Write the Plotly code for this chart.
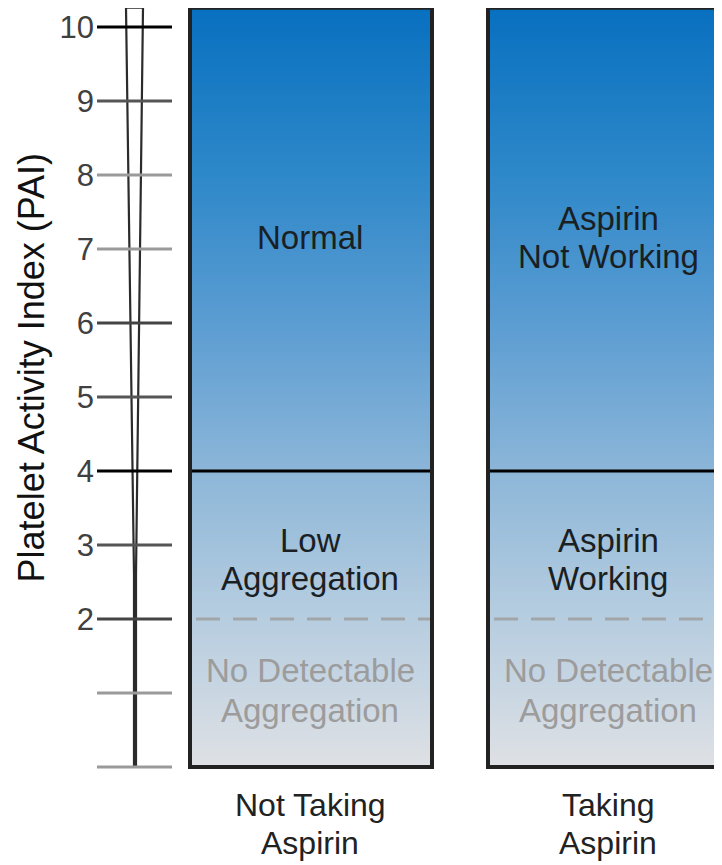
import plotly.graph_objects as go
import numpy as np

# ---- data ----
pai_ticks = [0, 1, 2, 3, 4, 5, 6, 7, 8, 9, 10]
tick_labels = ["", "", "2", "3", "4", "5", "6", "7", "8", "9", "10"]
tick_colors = ["#9a9a9a", "#9a9a9a", "#444444", "#555555", "#000000", "#555555",
               "#444444", "#9a9a9a", "#9a9a9a", "#555555", "#000000"]
columns = [["Not Taking", "Aspirin"], ["Taking", "Aspirin"]]
col_left = [190, 488]
col_right = [432, 730]
col_top = 10.26
threshold_working = 4      # solid line
threshold_detect = 2       # dashed line
upper_labels = [["Normal"], ["Aspirin", "Not Working"]]
middle_labels = [["Low", "Aggregation"], ["Aspirin", "Working"]]
lower_labels = [["No Detectable", "Aggregation"], ["No Detectable", "Aggregation"]]

# ---- layout constants ----
OFF = 8
PX_PER_UNIT = 74.0
Y_MAX = 10.365 - OFF / PX_PER_UNIT
Y_MIN = 10.365 - (865 + OFF) / PX_PER_UNIT
X_MIN, X_MAX = OFF, 722 + OFF
AXIS_X = 97
TICK_END = 172
LINE_GAP = 38 / PX_PER_UNIT

grad_scale = [
    [0.0, "#dfe1e5"],
    [0.1, "#c9d6e2"],
    [0.2, "#b6cde0"],
    [0.39, "#8cb6d8"],
    [0.59, "#5a9cd2"],
    [0.78, "#2e88c9"],
    [1.0, "#0870c0"],
]

FONT = "Liberation Sans, Arial, sans-serif"

fig = go.Figure()

y_edges = np.linspace(0, col_top, 206)
y_mid = (y_edges[:-1] + y_edges[1:]) / 2
x_edges = [col_left[0], col_right[0], col_left[1], col_right[1]]
z = [[v, None, v] for v in y_mid]
fig.add_trace(go.Heatmap(
    x=x_edges, y=y_edges, z=z, colorscale=grad_scale, zmin=0, zmax=col_top,
    showscale=False, hoverinfo="skip"))

tube_x = [134, 134, 126, 143, 136, 136]
tube_y = [0, 2.6, col_top, col_top, 2.6, 0]
fig.add_trace(go.Scatter(x=tube_x, y=tube_y, mode="lines",
                         line=dict(color="#2b2b2b", width=2.2),
                         hoverinfo="skip", showlegend=False))

shapes = []
for t, c in zip(pai_ticks, tick_colors):
    shapes.append(dict(type="line", xref="x", yref="y", x0=AXIS_X, x1=TICK_END,
                       y0=t, y1=t, line=dict(color=c, width=3), layer="above"))

for i in range(len(columns)):
    shapes.append(dict(type="line", xref="x", yref="y", x0=col_left[i], x1=col_right[i],
                       y0=threshold_working, y1=threshold_working,
                       line=dict(color="#000000", width=3)))
    shapes.append(dict(type="line", xref="x", yref="y", x0=col_left[i] + 6, x1=col_right[i],
                       y0=threshold_detect, y1=threshold_detect,
                       line=dict(color="#a3a6a9", width=3, dash="24px,13px")))
    shapes.append(dict(type="rect", xref="x", yref="y", x0=col_left[i], x1=col_right[i],
                       y0=0, y1=col_top, line=dict(color="#222222", width=4)))

fig.update_layout(shapes=shapes)

annotations = []


def add_block(lines, xc, yc, font, gap=LINE_GAP):
    n = len(lines)
    for k, txt in enumerate(lines):
        y = yc + (n - 1) / 2 * gap - k * gap
        annotations.append(dict(x=xc, y=y, xref="x", yref="y", text=txt,
                                showarrow=False, font=font, align="center"))


font_main = dict(family=FONT, size=33, color="#1a1f24")
font_gray = dict(family=FONT, size=33, color="#9c9c9c")
font_cat = dict(family=FONT, size=32, color="#222222")
for i in range(len(columns)):
    xc = (col_left[i] + min(col_right[i], col_left[i] + 242)) / 2 - 1
    add_block(upper_labels[i], xc, 7.16, font_main)
    add_block(middle_labels[i], xc, 2.81, font_main)
    add_block(lower_labels[i], xc, 1.04, font_gray, gap=40 / PX_PER_UNIT)
    add_block(columns[i], xc, -0.77, font_cat)

annotations.append(dict(x=31, y=5.4, xref="x", yref="y", text="Platelet Activity Index (PAI)",
                        textangle=-90, showarrow=False,
                        font=dict(family=FONT, size=36, color="#111111")))

fig.update_layout(
    annotations=annotations,
    width=722, height=865,
    margin=dict(l=0, r=0, t=0, b=0),
    paper_bgcolor="white", plot_bgcolor="white",
    showlegend=False,
    xaxis=dict(range=[X_MIN, X_MAX], showgrid=False, zeroline=False, showticklabels=False,
               ticks="", showline=False, fixedrange=True),
    yaxis=dict(range=[Y_MIN, Y_MAX], showgrid=False, zeroline=False, showline=False,
               anchor="free", position=(AXIS_X - X_MIN) / (X_MAX - X_MIN),
               tickmode="array", tickvals=pai_ticks, ticktext=tick_labels,
               ticks="", ticklabelstandoff=3,
               tickfont=dict(family=FONT, size=31, color="#404040"),
               fixedrange=True),
)

fig.write_html("out.html")
